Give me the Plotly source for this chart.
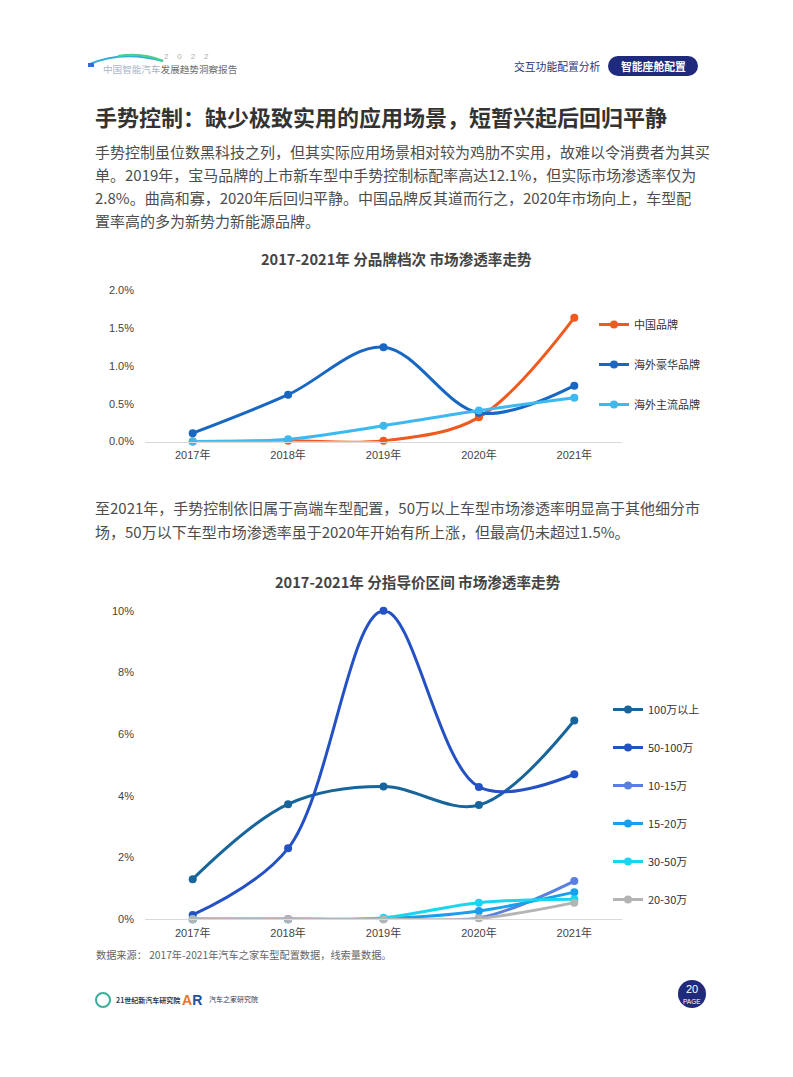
import plotly.graph_objects as go

# page is rendered inside the default 8px body margin
OFF = 8
W, H = 793 - 2 * OFF, 1077 - 2 * OFF

# ---------------- data ----------------
years = ["2017年", "2018年", "2019年", "2020年", "2021年"]

# chart 1: 分品牌档次 (values in %)
brand_names = ["中国品牌", "海外豪华品牌", "海外主流品牌"]
brand_china = [0.0, 0.01, 0.01, 0.32, 1.64]
brand_lux = [0.11, 0.62, 1.25, 0.38, 0.74]
brand_main = [0.0, 0.03, 0.21, 0.41, 0.58]
brand_colors = ["#F05A1E", "#1767C3", "#3DB9EF"]

# chart 2: 分指导价区间 (values in %)
price_names = ["100万以上", "50-100万", "10-15万", "15-20万", "30-50万", "20-30万"]
price_100p = [1.30, 3.73, 4.30, 3.70, 6.44]
price_50_100 = [0.14, 2.30, 10.0, 4.29, 4.70]
price_10_15 = [0.0, 0.0, 0.0, 0.04, 1.24]
price_15_20 = [0.0, 0.0, 0.02, 0.27, 0.88]
price_30_50 = [0.0, 0.0, 0.05, 0.54, 0.65]
price_20_30 = [0.0, 0.0, 0.0, 0.03, 0.54]
price_colors = ["#17659A", "#2451C4", "#5A7FE0", "#17A0EE", "#1AD4F0", "#B4B4B4"]

y1_ticks = [0.0, 0.5, 1.0, 1.5, 2.0]
y2_ticks = [0, 2, 4, 6, 8, 10]

CJK = "Noto Sans CJK SC"
NUM = "Liberation Sans, Noto Sans CJK SC"


def px(x):
    return (x - OFF) / W


def py(y):
    return 1 - (y - OFF) / H


fig = go.Figure()

brand_series = [brand_china, brand_lux, brand_main]
for i, (name, vals) in enumerate(zip(brand_names, brand_series)):
    fig.add_trace(go.Scatter(
        x=years, y=vals, name=name, mode="lines+markers",
        line=dict(color=brand_colors[i], width=3, shape="spline", smoothing=1),
        marker=dict(color=brand_colors[i], size=8),
        xaxis="x", yaxis="y", legend="legend", legendgroup="b%d" % i,
        cliponaxis=False,
    ))

price_series = [price_100p, price_50_100, price_10_15, price_15_20, price_30_50, price_20_30]
for i, (name, vals) in enumerate(zip(price_names, price_series)):
    fig.add_trace(go.Scatter(
        x=years, y=vals, name=name, mode="lines+markers",
        line=dict(color=price_colors[i], width=3, shape="spline", smoothing=1),
        marker=dict(color=price_colors[i], size=8),
        xaxis="x2", yaxis="y2", legend="legend2", legendgroup="p%d" % i,
        cliponaxis=False,
    ))

axis_common = dict(showgrid=False, zeroline=False, ticks="",
                   tickfont=dict(family=NUM, size=11, color="#444"))

fig.update_layout(
    width=W, height=H,
    margin=dict(l=0, r=0, t=0, b=0),
    paper_bgcolor="white", plot_bgcolor="white",
    template="none",
    showlegend=True,
    xaxis=dict(domain=[px(145), px(622)], anchor="y", showline=True,
               range=[-0.5, 4.5], linecolor="#D9D9D9", linewidth=1,
               ticklabelstandoff=3, **axis_common),
    yaxis=dict(domain=[py(441.5), py(290.5)], anchor="x", range=[0, 2.0],
               tickvals=y1_ticks, ticktext=["%.1f%%" % v for v in y1_ticks],
               ticklabelstandoff=10, showline=False, **axis_common),
    xaxis2=dict(domain=[px(145), px(622)], anchor="y2", showline=True,
                range=[-0.5, 4.5], linecolor="#D9D9D9", linewidth=1,
                ticklabelstandoff=3, **axis_common),
    yaxis2=dict(domain=[py(919.3), py(610.7)], anchor="x2", range=[0, 10],
                tickvals=y2_ticks, ticktext=["%d%%" % v for v in y2_ticks],
                ticklabelstandoff=10, showline=False, **axis_common),
    legend=dict(x=px(594), y=py(310), xanchor="left", yanchor="top",
                font=dict(family=CJK, size=11, color="#333"),
                tracegroupgap=21, itemwidth=30, bgcolor="rgba(0,0,0,0)"),
    legend2=dict(x=px(608), y=py(695), xanchor="left", yanchor="top",
                 font=dict(family=CJK, size=11, color="#333"),
                 tracegroupgap=19, itemwidth=30, bgcolor="rgba(0,0,0,0)"),
)

ann = []


def text(x, y, s, size, color, anchor="left", family=CJK, bold=False):
    if bold:
        s = "<b>%s</b>" % s
    ann.append(dict(x=px(x), y=py(y), xref="paper", yref="paper", text=s,
                    showarrow=False, xanchor=anchor, yanchor="middle",
                    font=dict(family=family, size=size, color=color)))


# header
text(101, 69, "<span style='color:#A9B6C6'>中国智能汽车</span>发展趋势洞察报告", 9.6, "#6E6E6E")
text(186, 56, "2    0    2    2", 8, "#B0B0B0", anchor="center", family=NUM)
text(557, 66, "交互功能配置分析", 10.8, "#2B3578", anchor="center")
text(653, 66, "智能座舱配置", 10.8, "white", anchor="center", bold=True)

# title and paragraphs
text(93, 116, "手势控制：缺少极致实用的应用场景，短暂兴起后回归平静", 22, "#333333", bold=True)
para1 = [
    "手势控制虽位数黑科技之列，但其实际应用场景相对较为鸡肋不实用，故难以令消费者为其买",
    "单。2019年，宝马品牌的上市新车型中手势控制标配率高达12.1%，但实际市场渗透率仅为",
    "2.8%。曲高和寡，2020年后回归平静。中国品牌反其道而行之，2020年市场向上，车型配",
    "置率高的多为新势力新能源品牌。",
]
for k, line in enumerate(para1):
    text(93, 151 + k * 23.2, line, 15, "#4D4D4D")
para2 = [
    "至2021年，手势控制依旧属于高端车型配置，50万以上车型市场渗透率明显高于其他细分市",
    "场，50万以下车型市场渗透率虽于2020年开始有所上涨，但最高仍未超过1.5%。",
]
for k, line in enumerate(para2):
    text(93, 507 + k * 24, line, 15, "#4D4D4D")

# chart titles
text(396, 258, "2017-2021年 分品牌档次 市场渗透率走势", 14.6, "#444444", anchor="center", bold=True)
text(418, 581, "2017-2021年 分指导价区间 市场渗透率走势", 14.6, "#444444", anchor="center", bold=True)

# source
text(94, 954, "数据来源： 2017年-2021年汽车之家车型配置数据，线索量数据。", 10.2, "#666666")

# footer logos
text(114, 1000, "21世纪新汽车研究院", 7, "#2A3A55", bold=True)
text(192, 1000, "<span style='color:#E8742A'>A</span><span style='color:#1E4FA0'>R</span>",
     14, "#1E4FA0", anchor="center", bold=True, family=NUM)
text(207, 999, "汽车之家研究院", 7, "#2A3A55")
text(692, 989, "20", 11, "white", anchor="center", family=NUM)
text(692, 1001, "PAGE", 6.5, "white", anchor="center", family=NUM)

fig.update_layout(annotations=ann)

shapes = []
# header swoosh
shapes.append(dict(type="path", xref="paper", yref="paper",
                   path="M %f,%f Q %f,%f %f,%f" % (px(90), py(64), px(122), py(50), px(163), py(61)),
                   line=dict(color="#2FB0D8", width=2)))
shapes.append(dict(type="path", xref="paper", yref="paper",
                   path="M %f,%f Q %f,%f %f,%f" % (px(118), py(56), px(142), py(52), px(163), py(61)),
                   line=dict(color="#47D08A", width=2)))
shapes.append(dict(type="rect", xref="paper", yref="paper",
                   x0=px(88), x1=px(94), y0=py(67), y1=py(63),
                   fillcolor="#2E6FD8", line=dict(width=0)))
# pill
r = 10
x0p, x1p, y0p, y1p = 608, 698, 56, 76
shapes.append(dict(type="rect", xref="paper", yref="paper", x0=px(x0p + r), x1=px(x1p - r),
                   y0=py(y1p), y1=py(y0p), fillcolor="#1F2A7C", line=dict(width=0)))
shapes.append(dict(type="circle", xref="paper", yref="paper",
                   x0=px(x0p), x1=px(x0p + 2 * r), y0=py(y1p), y1=py(y0p),
                   fillcolor="#1F2A7C", line=dict(width=0)))
shapes.append(dict(type="circle", xref="paper", yref="paper",
                   x0=px(x1p - 2 * r), x1=px(x1p), y0=py(y1p), y1=py(y0p),
                   fillcolor="#1F2A7C", line=dict(width=0)))
# page badge
shapes.append(dict(type="circle", xref="paper", yref="paper",
                   x0=px(678), x1=px(706), y0=py(1008), y1=py(980),
                   fillcolor="#1F2A7C", line=dict(width=0)))
# footer logo circle
shapes.append(dict(type="circle", xref="paper", yref="paper",
                   x0=px(96), x1=px(110), y0=py(1007), y1=py(993),
                   fillcolor="white", line=dict(color="#3AAE9A", width=2)))
fig.update_layout(shapes=shapes)

fig.write_html("out.html")
